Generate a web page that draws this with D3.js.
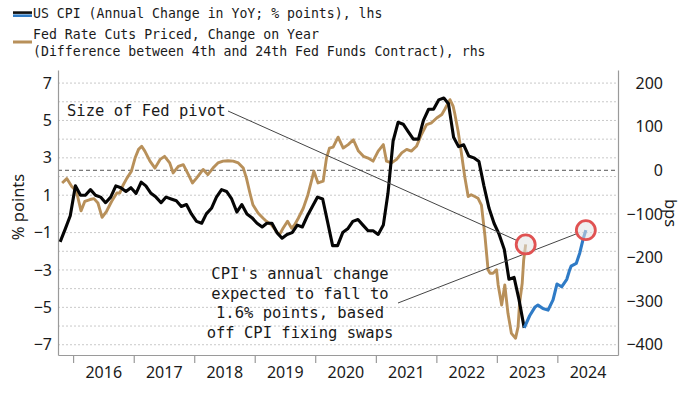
<!DOCTYPE html>
<html><head><meta charset="utf-8">
<script src="https://cdn.jsdelivr.net/npm/d3@7"></script>
<style>body{margin:0;background:#fff} svg{display:block}</style>
</head><body>
<svg id="c" width="700" height="394"></svg>
<script>
// ---------- DATA ----------
const cpiStartMonth = "2015-10-15";
const cpiValues = [-1.5,-0.8,-0.1,
 1.5,1.0,1.0,1.3,1.0,0.9,0.6,0.9,1.5,1.4,1.2,1.4,
 1.1,1.7,1.5,1.1,0.9,0.6,0.9,0.8,0.7,0.4,0.5,0.0,
 -0.4,-0.5,0.0,0.3,0.9,1.3,1.2,0.8,0.1,0.5,0.0,-0.2,
 -0.5,-0.7,-0.5,-0.5,-1.0,-1.3,-1.1,-1.0,-0.6,-0.7,-0.1,0.4,
 0.9,0.8,-0.4,-1.7,-1.7,-1.0,-0.8,-0.4,-0.3,-0.6,-0.9,-0.9,
 -1.1,-0.6,1.1,3.9,4.9,4.8,4.4,4.0,4.0,5.0,5.6,5.6,
 6.1,6.2,5.9,4.1,3.6,3.7,3.1,3.0,2.8,1.5,0.3,-0.5,
 -1.1,-1.9,-3.5,-3.4,-4.6,-6.1];

const forecastDates = ["2023-06-15","2023-07-18","2023-08-18","2023-09-06","2023-10-06","2023-11-06","2023-12-06","2023-12-30","2024-01-27","2024-02-27","2024-03-15","2024-03-24","2024-04-24","2024-05-15","2024-06-03","2024-06-21"];
const forecastValues = [-6.1,-5.45,-5.0,-4.88,-5.06,-5.15,-4.6,-3.75,-3.9,-3.5,-3.0,-2.8,-2.65,-2.1,-1.4,-0.87];

const fedDates = ["2015-10-27","2015-11-24","2015-12-24","2016-01-21","2016-02-18","2016-03-12","2016-04-12","2016-05-06","2016-05-30","2016-06-24","2016-07-21","2016-08-21","2016-09-21","2016-10-09","2016-10-30","2016-11-21","2016-12-18","2017-01-09","2017-01-30","2017-02-18","2017-03-09","2017-04-09","2017-05-09","2017-06-09","2017-07-06","2017-08-06","2017-08-27","2017-09-27","2017-10-27","2017-11-27","2017-12-21","2018-01-15","2018-02-24","2018-03-24","2018-04-24","2018-05-24","2018-06-24","2018-07-24","2018-08-24","2018-09-24","2018-10-24","2018-11-12","2018-12-03","2018-12-21","2019-01-21","2019-02-21","2019-03-12","2019-04-12","2019-05-12","2019-05-30","2019-06-21","2019-07-18","2019-08-12","2019-08-30","2019-09-21","2019-10-21","2019-11-18","2019-12-09","2019-12-24","2020-01-18","2020-02-18","2020-03-09","2020-03-27","2020-04-18","2020-05-18","2020-06-18","2020-07-18","2020-08-18","2020-09-18","2020-10-18","2020-11-15","2020-12-15","2021-01-15","2021-02-15","2021-03-06","2021-04-06","2021-05-06","2021-06-06","2021-07-06","2021-08-03","2021-09-03","2021-10-03","2021-11-03","2021-12-03","2022-01-03","2022-02-03","2022-02-21","2022-03-24","2022-04-12","2022-04-21","2022-05-12","2022-05-30","2022-06-21","2022-07-12","2022-07-30","2022-08-21","2022-09-09","2022-09-30","2022-10-21","2022-11-09","2022-11-21","2022-12-09","2022-12-30","2023-01-09","2023-01-30","2023-02-18","2023-03-09","2023-03-30","2023-04-24","2023-05-09","2023-05-18","2023-06-03","2023-06-12","2023-06-24"];
const fedBps = [-29,-19,-37,-48,-93,-71,-67,-65,-75,-108,-94,-71,-52,-52,-33,-18,-2,28,48,55,44,21,5,25,32,17,-6,9,13,-10,-29,-18,2,-10,5,17,21,22,21,17,5,-18,-52,-79,-98,-110,-117,-125,-140,-148,-133,-117,-133,-125,-110,-87,-56,-25,-2,-29,-25,28,51,53,76,51,59,70,44,32,28,21,44,59,21,17,25,40,48,44,55,82,105,109,120,128,140,162,147,132,90,45,-14,-60,-56,-60,-64,-80,-150,-228,-236,-236,-228,-263,-309,-263,-328,-374,-385,-359,-305,-259,-205,-170];

const yearLabels = ["2016","2017","2018","2019","2020","2021","2022","2023","2024"];
const leftTicks = [7,5,3,1,-1,-3,-5,-7];
const rightTicks = [200,100,0,-100,-200,-300,-400];
const legendLabels = ["US CPI (Annual Change in YoY; % points), lhs","Fed Rate Cuts Priced, Change on Year","(Difference between 4th and 24th Fed Funds Contract), rhs"];
const pivotLabel = "Size of Fed pivot";
const cpiNoteLines = ["CPI's annual change","expected to fall to","1.6% points, based","off CPI fixing swaps"];

// ---------- CHART ----------
const parse = d3.timeParse("%Y-%m-%d");
const svg = d3.select("#c");
const L = 58, R = 618, T = 70, B = 355;
const leftDomain = [-7.55, 7.7];
const toBps = v => v * 600 / 14 - 100;

const x = d3.scaleTime().domain([new Date(2015, 9, 2), new Date(2025, 0, 1)]).range([L, R]);
const yL = d3.scaleLinear().domain(leftDomain).range([B, T]);
const yR = d3.scaleLinear().domain(leftDomain.map(toBps)).range([B, T]);

const axisFont = "'Noto Sans', sans-serif";
const monoFont = "'DejaVu Sans Mono', monospace";

// gridlines
svg.append("g").selectAll("line").data(d3.range(-7, 8)).join("line")
  .attr("x1", L).attr("x2", R).attr("y1", d => yL(d)).attr("y2", d => yL(d))
  .attr("stroke", "#c9c9c9").attr("stroke-width", 1).attr("stroke-dasharray", "2,2");
svg.append("line").attr("x1", L).attr("x2", R).attr("y1", yR(0)).attr("y2", yR(0))
  .attr("stroke", "#555").attr("stroke-width", 1).attr("stroke-dasharray", "4,3");

// axes
const gL = svg.append("g").attr("transform", `translate(${L},0)`)
  .call(d3.axisLeft(yL).tickValues(leftTicks).tickSize(0).tickPadding(6).tickSizeOuter(0).tickFormat(d3.format("d")));
const gR = svg.append("g").attr("transform", `translate(${R},0)`)
  .call(d3.axisRight(yR).tickValues(rightTicks).tickSize(0).tickSizeOuter(0).tickFormat(d3.format("d")));
gR.selectAll("text").attr("text-anchor", "end").attr("x", 45);
const yearStarts = yearLabels.map(y => new Date(+y, 0, 1));
const gB = svg.append("g").attr("transform", `translate(0,${B})`)
  .call(d3.axisBottom(x).tickValues(yearStarts).tickSize(8).tickSizeOuter(0).tickFormat(""));
const gB2 = svg.append("g").attr("transform", `translate(0,${B})`)
  .call(d3.axisBottom(x).tickValues(yearLabels.map(y => new Date(+y, 6, 1))).tickSize(0).tickPadding(12)
    .tickFormat((d, i) => yearLabels[i]));
gB2.select(".domain").remove();
[gL, gR, gB].forEach(g => g.select(".domain").attr("stroke", "#9a9a9a").attr("stroke-width", 1.2));
gB.selectAll(".tick line").attr("stroke", "#9a9a9a").attr("stroke-width", 1.2);
[gL, gR, gB2].forEach(g => g.selectAll("text").attr("font-family", axisFont).attr("font-size", 16).attr("fill", "#1a1a1a"));

// axis titles
svg.append("text").attr("transform", "translate(24,207) rotate(-90)").attr("text-anchor", "middle")
  .attr("font-family", axisFont).attr("font-size", 16.5).attr("fill", "#1a1a1a").text("% points");
svg.append("text").attr("transform", "translate(665,213) rotate(90)").attr("text-anchor", "middle")
  .attr("font-family", axisFont).attr("font-size", 16.5).attr("fill", "#1a1a1a").text("bps");

// series
const cpiData = cpiValues.map((v, i) => ({ date: d3.timeMonth.offset(parse(cpiStartMonth), i), v }));
const fcData = forecastValues.map((v, i) => ({ date: parse(forecastDates[i]), v }));
const fedData = fedBps.map((v, i) => ({ date: parse(fedDates[i]), v }));

svg.append("path").datum(fedData).attr("fill", "none").attr("stroke", "#b8905a").attr("stroke-width", 2.9)
  .attr("stroke-linejoin", "round").attr("d", d3.line().x(d => x(d.date)).y(d => yR(d.v)));
svg.append("path").datum(cpiData).attr("fill", "none").attr("stroke", "#050505").attr("stroke-width", 3.1)
  .attr("stroke-linejoin", "round").attr("d", d3.line().x(d => x(d.date)).y(d => yL(d.v)));
svg.append("path").datum(fcData).attr("fill", "none").attr("stroke", "#2f7bc6").attr("stroke-width", 3.1)
  .attr("stroke-linejoin", "round").attr("d", d3.line().x(d => x(d.date)).y(d => yL(d.v)));

// annotation circles & leaders
const fedEnd = fedData[fedData.length - 1], fcEnd = fcData[fcData.length - 1];
const c1 = [x(fedEnd.date), yR(fedEnd.v)], c2 = [x(fcEnd.date), yL(fcEnd.v)];
const rC = 9.5;
function leader(p0, c) {
  const dx = c[0] - p0[0], dy = c[1] - p0[1], len = Math.hypot(dx, dy);
  svg.append("line").attr("x1", p0[0]).attr("y1", p0[1])
    .attr("x2", c[0] - dx / len * rC).attr("y2", c[1] - dy / len * rC)
    .attr("stroke", "#444").attr("stroke-width", 1);
}
leader([228, 111], c1);
leader([398, 303], c2);
[c1, c2].forEach(c => svg.append("circle").attr("cx", c[0]).attr("cy", c[1]).attr("r", rC)
  .attr("fill", "rgba(225,225,225,0.55)").attr("stroke", "#e05252").attr("stroke-width", 2.8));

// annotation text
svg.append("text").attr("x", 67).attr("y", 116).attr("font-family", monoFont).attr("font-size", 15.5)
  .attr("fill", "#1a1a1a").text(pivotLabel);
svg.append("g").selectAll("text").data(cpiNoteLines).join("text")
  .attr("x", 300).attr("y", (d, i) => 279 + i * 19.6).attr("text-anchor", "middle")
  .attr("font-family", monoFont).attr("font-size", 15.5).attr("fill", "#1a1a1a").text(d => d);

// legend
svg.append("rect").attr("x", 13).attr("y", 11.3).attr("width", 19).attr("height", 2.6).attr("fill", "#111");
svg.append("rect").attr("x", 13).attr("y", 14.4).attr("width", 19).attr("height", 2.6).attr("fill", "#2f7bc6");
svg.append("rect").attr("x", 13).attr("y", 40.5).attr("width", 19).attr("height", 3).attr("fill", "#b8905a");
svg.append("g").selectAll("text").data(legendLabels).join("text")
  .attr("x", 33).attr("y", (d, i) => [17.5, 39.3, 56][i])
  .attr("font-family", monoFont).attr("font-size", 13.2).attr("fill", "#1a1a1a").text(d => d);
</script></body></html>
